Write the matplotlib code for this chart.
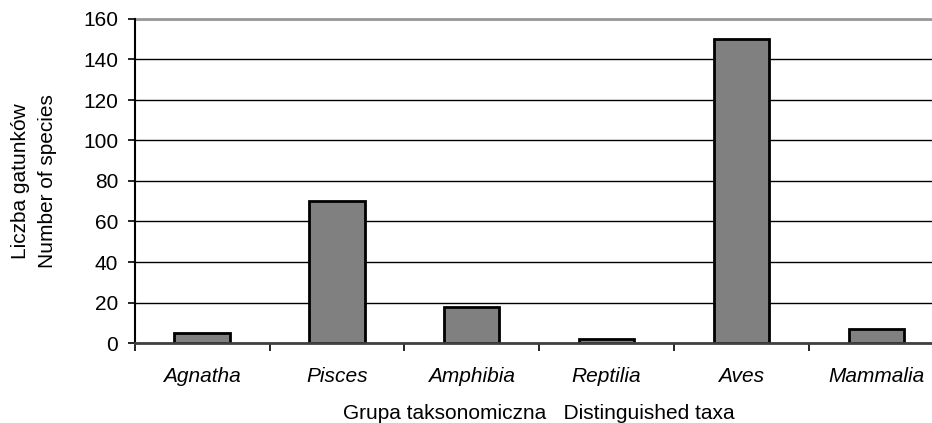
import numpy as np
import matplotlib.pyplot as plt

plt.rcParams['font.family'] = ['Liberation Sans', 'DejaVu Sans']

# data
taxa = ["Agnatha", "Pisces", "Amphibia", "Reptilia", "Aves", "Mammalia"]
species = [5, 70, 18, 2, 150, 7]
yticks = [0, 20, 40, 60, 80, 100, 120, 140, 160]

fig = plt.figure(figsize=(9.32, 4.23), dpi=100)
ax = fig.add_axes([134.7 / 932, (423 - 343) / 423, (943.6 - 134.7) / 932, (343 - 19) / 423])

x = np.arange(len(taxa))
ax.bar(x, species, width=0.41, color="#808080", edgecolor="black", linewidth=2, zorder=3)

ax.set_xlim(-0.5, len(taxa) - 0.5)
ax.set_ylim(0, 160)
ax.set_yticks(yticks)
ax.set_axisbelow(True)
ax.yaxis.grid(True, color="black", linewidth=1)

# category ticks sit between bars, labels under bar centres
ax.set_xticks(np.arange(len(taxa) + 1) - 0.5)
ax.set_xticklabels([])
ax.set_xticks(x, minor=True)
ax.set_xticklabels(taxa, minor=True, fontstyle="italic", fontsize=15)
ax.tick_params(axis="x", which="minor", length=0, pad=17)
ax.tick_params(axis="x", which="major", length=6, width=1.2, direction="out")
ax.tick_params(axis="y", length=5, width=1.2, labelsize=15, pad=7)

for s in ["top", "right"]:
    ax.spines[s].set_visible(False)
ax.spines["left"].set_linewidth(1.5)
ax.spines["left"].set_zorder(4)
ax.spines["bottom"].set_linewidth(2)
ax.spines["bottom"].set_color("#404040")
ax.spines["bottom"].set_zorder(4)
ax.axhline(160, color="#999999", linewidth=2, zorder=2, clip_on=False)

ax.set_xlabel("Grupa taksonomiczna   Distinguished taxa", fontsize=15, labelpad=13)
ax.set_ylabel("Liczba gatunków\nNumber of species", fontsize=15, labelpad=19,
              linespacing=1.5)

plt.savefig("out.png", dpi=100)
